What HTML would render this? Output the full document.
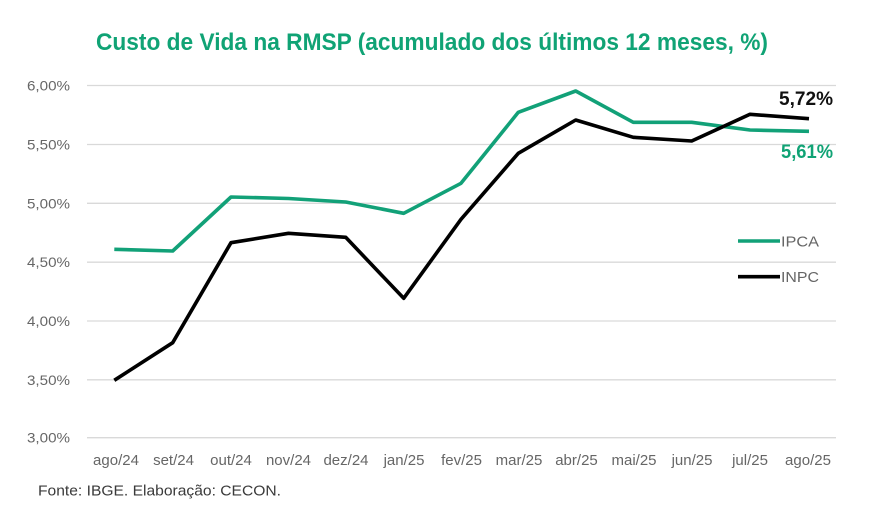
<!DOCTYPE html>
<html><head><meta charset="utf-8"><style>
html,body{margin:0;padding:0;background:#fff;}
svg{display:block;}
</style></head><body>
<svg width="886" height="528" viewBox="0 0 886 528" xmlns="http://www.w3.org/2000/svg" font-family="Liberation Sans, Arial, sans-serif">
<rect width="886" height="528" fill="#fff"/>
<text x="96" y="50" font-size="24" font-weight="bold" fill="#10a375" textLength="672" lengthAdjust="spacingAndGlyphs">Custo de Vida na RMSP (acumulado dos últimos 12 meses, %)</text>
<g stroke="#d9d9d9" stroke-width="1.3">
<line x1="87" y1="85.5" x2="836" y2="85.5"/>
<line x1="87" y1="144.5" x2="836" y2="144.5"/>
<line x1="87" y1="203.3" x2="836" y2="203.3"/>
<line x1="87" y1="262.2" x2="836" y2="262.2"/>
<line x1="87" y1="321" x2="836" y2="321"/>
<line x1="87" y1="379.8" x2="836" y2="379.8"/>
<line x1="87" y1="437.7" x2="836" y2="437.7"/>
</g>
<g font-size="14" fill="#666" text-anchor="end">
<text x="70" y="90.5" textLength="43" lengthAdjust="spacingAndGlyphs">6,00%</text>
<text x="70" y="149.5" textLength="43" lengthAdjust="spacingAndGlyphs">5,50%</text>
<text x="70" y="208.3" textLength="43" lengthAdjust="spacingAndGlyphs">5,00%</text>
<text x="70" y="267.2" textLength="43" lengthAdjust="spacingAndGlyphs">4,50%</text>
<text x="70" y="326" textLength="43" lengthAdjust="spacingAndGlyphs">4,00%</text>
<text x="70" y="384.8" textLength="43" lengthAdjust="spacingAndGlyphs">3,50%</text>
<text x="70" y="442.7" textLength="43" lengthAdjust="spacingAndGlyphs">3,00%</text>
</g>
<g font-size="15" fill="#666" text-anchor="middle">
<text x="116" y="465">ago/24</text>
<text x="173.5" y="465">set/24</text>
<text x="231" y="465">out/24</text>
<text x="288.5" y="465">nov/24</text>
<text x="346" y="465">dez/24</text>
<text x="404" y="465">jan/25</text>
<text x="461.5" y="465">fev/25</text>
<text x="519" y="465">mar/25</text>
<text x="576.5" y="465">abr/25</text>
<text x="634" y="465">mai/25</text>
<text x="692" y="465">jun/25</text>
<text x="750" y="465">jul/25</text>
<text x="808" y="465">ago/25</text>
</g>
<polyline fill="none" stroke="#12a178" stroke-width="3.6" stroke-linejoin="round" points="114.3,249.3 172.7,251 231,197 288.5,198.5 345.7,202 403.7,213.3 461,183.3 518.3,112.3 575.7,91 633.3,122.3 691.7,122.3 750,130 809,131.3"/>
<polyline fill="none" stroke="#000" stroke-width="3.6" stroke-linejoin="round" points="114.3,380.3 172.7,342.7 231,242.7 288.5,233.3 345.7,237.3 403.7,298.3 461,219.3 518.3,153.3 575.7,120 633.3,137.3 691.7,141 750,114.3 809,118.7"/>
<text x="779" y="105" font-size="19" font-weight="bold" fill="#111" textLength="54" lengthAdjust="spacingAndGlyphs">5,72%</text>
<text x="781" y="158" font-size="19" font-weight="bold" fill="#10a375" textLength="52" lengthAdjust="spacingAndGlyphs">5,61%</text>
<line x1="738" y1="241" x2="780" y2="241" stroke="#12a178" stroke-width="3.6"/>
<text x="781" y="246.5" font-size="15" fill="#666" textLength="38" lengthAdjust="spacingAndGlyphs">IPCA</text>
<line x1="738" y1="276.7" x2="780" y2="276.7" stroke="#000" stroke-width="3.6"/>
<text x="781" y="282" font-size="15" fill="#666" textLength="38" lengthAdjust="spacingAndGlyphs">INPC</text>
<text x="38" y="495.5" font-size="15" fill="#3a3a3a" textLength="243" lengthAdjust="spacingAndGlyphs">Fonte: IBGE. Elaboração: CECON.</text>
</svg>
</body></html>
